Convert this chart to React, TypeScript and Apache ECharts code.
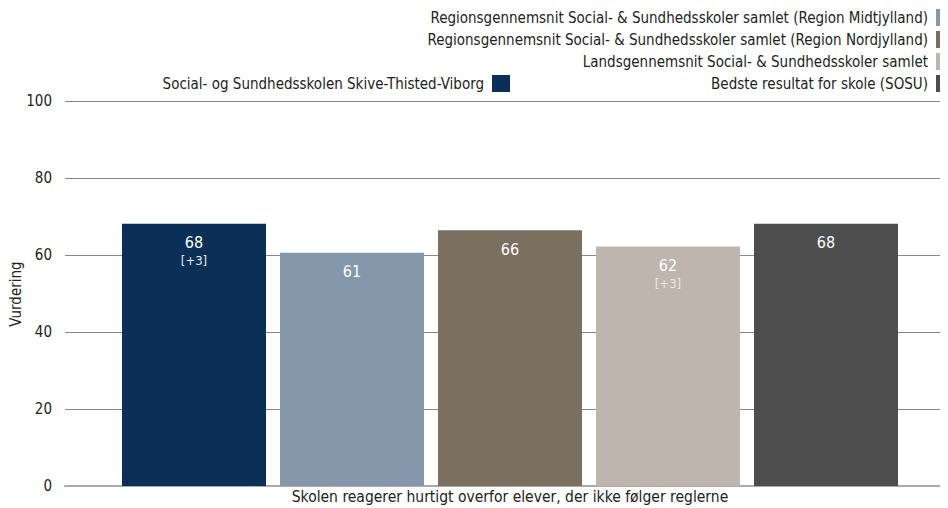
import React, { useEffect, useRef } from "react";
import * as echarts from "echarts";

const categories = ["Skolen reagerer hurtigt overfor elever, der ikke følger reglerne"];
const seriesNames = [
  "Social- og Sundhedsskolen Skive-Thisted-Viborg",
  "Regionsgennemsnit Social- & Sundhedsskoler samlet (Region Midtjylland)",
  "Regionsgennemsnit Social- & Sundhedsskoler samlet (Region Nordjylland)",
  "Landsgennemsnit Social- & Sundhedsskoler samlet",
  "Bedste resultat for skole (SOSU)",
];
const seriesValues = [68.1, 60.6, 66.4, 62.2, 68.1];
const changes: (string | null)[] = ["[+3]", null, null, "[+3]", null];
const colors = ["#0b2f56", "#8497ab", "#7b6f60", "#bdb5ae", "#4d4d4d"];
const changeColors = ["#e6e9ee", "", "", "#ece9e6", ""];
const yTicks = [0, 20, 40, 60, 80, 100];
const yAxisTitle = "Vurdering";

const FONT = "DejaVu Sans Condensed";

export default function App() {
  const ref = useRef<HTMLDivElement>(null);
  useEffect(() => {
    if (!ref.current) return;
    const chart = echarts.init(ref.current, undefined, { renderer: "svg" });
    const legendPos = [
      { right: 438, top: 75 },
      { right: -6, top: 9 },
      { right: -6, top: 31 },
      { right: -6, top: 53 },
      { right: -6, top: 75 },
    ];
    const legends = seriesNames.map((n, i) => ({
      data: [n],
      orient: "horizontal",
      align: "right",
      right: legendPos[i].right,
      top: legendPos[i].top,
      padding: 0,
      itemWidth: 18,
      itemHeight: 17,
      icon: "rect",
      selectedMode: false,
      textStyle: { fontFamily: FONT, fontSize: 15, color: "#222", padding: [0, 3, 0, 0] },
    }));
    chart.setOption({
      animation: false,
      textStyle: { fontFamily: FONT },
      legend: legends,
      graphic: [
        {
          type: "text",
          x: 16,
          y: 294,
          rotation: Math.PI / 2,
          style: {
            text: yAxisTitle,
            fontFamily: FONT,
            fontSize: 15,
            fill: "#222",
            align: "center",
            verticalAlign: "middle",
          },
        },
      ],
      grid: { left: 65, right: -7, top: 101, bottom: 22, containLabel: false, outerBoundsMode: "none" },
      xAxis: {
        type: "category",
        data: categories,
        axisTick: { show: false },
        axisLine: { lineStyle: { color: "#aaaaaa", width: 2 } },
        axisLabel: { fontFamily: FONT, fontSize: 15.5, color: "#222", margin: 3 },
      },
      yAxis: {
        type: "value",
        min: yTicks[0],
        max: yTicks[yTicks.length - 1],
        interval: 20,
        axisLine: { show: false },
        axisTick: { show: false },
        axisLabel: { fontFamily: FONT, fontSize: 15, color: "#222", margin: 13 },
        splitLine: { lineStyle: { color: "#888888", width: 1 } },
      },
      series: seriesNames.map((n, i) => ({
        name: n,
        type: "bar",
        barWidth: 144,
        barGap: "9.72%",
        itemStyle: { color: colors[i] },
        data: [seriesValues[i]],
        label: {
          show: true,
          position: "insideTop",
          distance: 10,
          fontFamily: FONT,
          formatter: () =>
            changes[i] ? `{v|${Math.round(seriesValues[i])}}\n{c|${changes[i]}}` : `{v|${Math.round(seriesValues[i])}}`,
          rich: {
            v: { fontFamily: FONT, fontSize: 16, color: "#ffffff", lineHeight: 18 },
            c: { fontFamily: FONT, fontSize: 13, color: changeColors[i] || "#fff", lineHeight: 17 },
          },
        },
      })),
    });
    return () => chart.dispose();
  }, []);
  return <div ref={ref} style={{ width: 948, height: 508, marginLeft: -8, marginTop: -8 }} />;
}
